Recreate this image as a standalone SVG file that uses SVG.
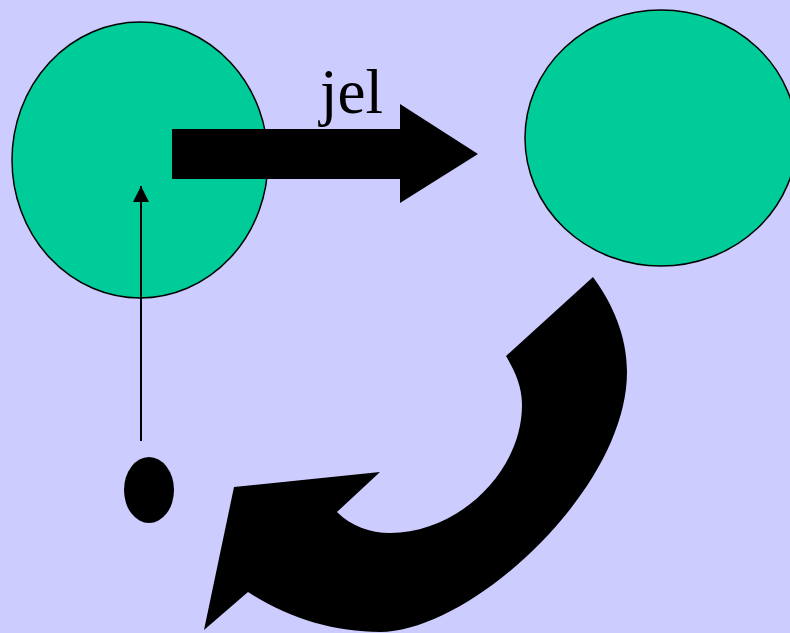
<svg xmlns="http://www.w3.org/2000/svg" width="790" height="633" viewBox="0 0 790 633">
<style>
.node{fill:#00CC99;stroke:#000;stroke-width:1.5}
.blk{fill:#000;stroke:none}
.lbl{font-family:"Liberation Serif","Times New Roman",serif;font-size:63px;fill:#000}
</style>
<defs>
<marker id="ah" markerWidth="16" markerHeight="16" refX="16" refY="8" orient="auto" markerUnits="userSpaceOnUse">
<path d="M0,0 L16,8 L0,16 Z" fill="#000"/>
</marker>
</defs>
<rect width="790" height="633" fill="#CCCCFF"/>
<g id="nodeA"><ellipse class="node" cx="140" cy="160" rx="128" ry="138"/></g>
<g id="nodeB"><ellipse class="node" cx="661" cy="138" rx="136" ry="128"/></g>
<g id="nodeC"><ellipse class="blk" cx="149" cy="490" rx="25" ry="33"/></g>
<g id="connectors">
<polygon class="blk" points="172,129 400,129 400,104 478,154 400,203 400,179 172,179"/>
<text class="lbl" x="320" y="113">jel</text>
<line x1="141" y1="441" x2="141" y2="186" stroke="#000" stroke-width="2" marker-end="url(#ah)"/>
<path class="blk" d="M593,277 L506,356 C514,370 522,385 522,405 C522,472 458,533 390,533 C370,533 351,526 337,512 L380,472 L234,487 L204,630 L248,592 C287,618 334,632 380,632 C470,632 627,490 627,372 C627,335 612,303 593,277 Z"/>
</g>
</svg>
